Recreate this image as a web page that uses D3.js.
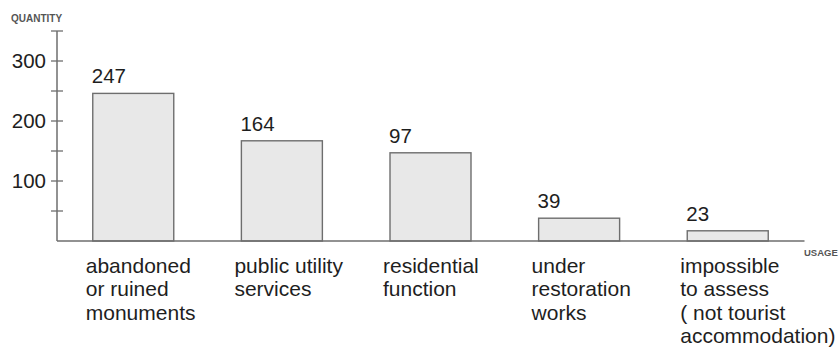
<!DOCTYPE html>
<html>
<head>
<meta charset="utf-8">
<script src="https://cdn.jsdelivr.net/npm/d3@7/dist/d3.min.js"></script>
<style>
  html, body { margin: 0; padding: 0; background: #fff; }
  svg { display: block; font-family: "Liberation Sans", Arial, sans-serif; }
</style>
</head>
<body>
<svg id="chart" width="839" height="353"></svg>
<script>
// ---- data ----
const categories = [
  ["abandoned", "or ruined", "monuments"],
  ["public utility", "services"],
  ["residential", "function"],
  ["under", "restoration", "works"],
  ["impossible", "to assess", "( not tourist", "accommodation)"]
];
const valueLabels = [247, 164, 97, 39, 23];      // numbers printed above bars
const barHeights = [246, 167, 147, 38, 17];      // heights as drawn in the reference
const majorTicks = [100, 200, 300];
const minorTicks = [50, 150, 250, 350];
const yTitle = "QUANTITY";
const xTitle = "USAGE";

// ---- layout ----
const svg = d3.select("#chart");
const axisX = 57;
const y = d3.scaleLinear().domain([0, 350]).range([241, 31]);
const x = d3.scaleBand()
  .domain(d3.range(categories.length))
  .range([56.5, 804.5])
  .paddingInner(0.455)
  .paddingOuter(0.244);

const lineCol = "#6e6e6e";
const textCol = "#1e1e1e";

// bars
svg.append("g").selectAll("rect")
  .data(barHeights)
  .join("rect")
  .attr("x", (d, i) => x(i))
  .attr("y", d => y(d))
  .attr("width", x.bandwidth())
  .attr("height", d => y(0) - y(d))
  .attr("fill", "#e8e8e8")
  .attr("stroke", lineCol)
  .attr("stroke-width", 1.4);

// x baseline
svg.append("line")
  .attr("x1", axisX).attr("x2", x.range()[1])
  .attr("y1", y(0)).attr("y2", y(0))
  .attr("stroke", lineCol).attr("stroke-width", 1.5);

// y axis line
svg.append("line")
  .attr("x1", axisX).attr("x2", axisX)
  .attr("y1", y(350)).attr("y2", y(0))
  .attr("stroke", lineCol).attr("stroke-width", 1.5);

// ticks
svg.append("g").selectAll("line")
  .data(majorTicks.concat(minorTicks))
  .join("line")
  .attr("x1", axisX - 6).attr("x2", axisX + 6)
  .attr("y1", d => y(d)).attr("y2", d => y(d))
  .attr("stroke", lineCol).attr("stroke-width", 1.3);

// tick labels
svg.append("g").selectAll("text")
  .data(majorTicks)
  .join("text")
  .attr("x", axisX - 11)
  .attr("y", d => y(d))
  .attr("dy", "0.36em")
  .attr("text-anchor", "end")
  .attr("font-size", 20.5)
  .attr("fill", textCol)
  .text(d => d);

// value labels
svg.append("g").selectAll("text")
  .data(valueLabels)
  .join("text")
  .attr("x", (d, i) => x(i) - 1)
  .attr("y", (d, i) => y(barHeights[i]) - 10)
  .attr("font-size", 20.5)
  .attr("fill", textCol)
  .text(d => d);

// category labels
const cat = svg.append("g").selectAll("text")
  .data(categories)
  .join("text")
  .attr("x", (d, i) => x(i) - 7)
  .attr("y", y(0) + 32)
  .attr("font-size", 21)
  .attr("fill", textCol);
cat.selectAll("tspan")
  .data(d => d)
  .join("tspan")
  .attr("x", function () { return d3.select(this.parentNode).attr("x"); })
  .attr("dy", (d, j) => j === 0 ? 0 : 23.3)
  .text(d => d);

// axis titles
svg.append("text")
  .attr("x", 11).attr("y", 22)
  .attr("font-size", 10)
  .attr("font-weight", "bold")
  .attr("fill", "#555")
  .text(yTitle);
svg.append("text")
  .attr("x", 804).attr("y", 256)
  .attr("font-size", 9.5)
  .attr("font-weight", "bold")
  .attr("fill", "#555")
  .text(xTitle);
</script>
</body>
</html>
